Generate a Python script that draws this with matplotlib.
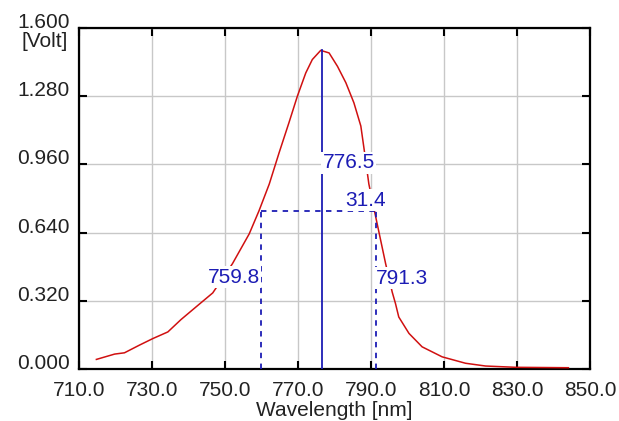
import matplotlib.pyplot as plt

# spectrum
wavelength = [714.7, 719.7, 722.4, 726.5, 730.2, 734.3, 737.9, 742.9, 746.6,
              752.0, 756.6, 759.3, 762.1, 764.8, 767.5, 769.8, 772.1, 773.9,
              776.2, 778.5, 780.8, 783.1, 785.3, 787.2, 788.1, 789.4, 791.3,
              794.0, 795.8, 796.7, 797.6, 800.4, 804.0, 809.5, 815.9, 821.4,
              829.6, 844.1]
volt = [0.045, 0.070, 0.076, 0.112, 0.143, 0.174, 0.232, 0.304, 0.357,
        0.494, 0.634, 0.743, 0.868, 1.015, 1.156, 1.280, 1.389, 1.452,
        1.495, 1.483, 1.420, 1.343, 1.249, 1.140, 1.031, 0.868, 0.712,
        0.494, 0.361, 0.307, 0.244, 0.167, 0.104, 0.057, 0.027, 0.014,
        0.008, 0.006]

peak_x = 776.5
peak_y = 1.495
left_x = 759.8
right_x = 791.3
half_y = 0.743
fwhm = 31.4

xticks = [710, 730, 750, 770, 790, 810, 830, 850]
yticks = [0.0, 0.32, 0.64, 0.96, 1.28, 1.6]

red = '#d01010'
blue = '#1c1cb4'

plt.rcParams['font.family'] = 'Liberation Sans'
plt.rcParams['font.size'] = 15

fig = plt.figure(figsize=(6.19, 4.21), dpi=100)
ax = fig.add_axes([0.128, 0.1235, 0.825, 0.81])

ax.set_xlim(710, 850)
ax.set_ylim(0, 1.6)
ax.set_xticks(xticks)
ax.set_yticks(yticks)
ax.set_xticklabels([f"{v:.1f}" for v in xticks])
ax.set_yticklabels([f"{v:.3f}" for v in yticks])
for lbl in ax.get_yticklabels():
    lbl.set_va('baseline')
ax.tick_params(direction='in', length=6, width=1.5, top=True, right=True,
               labelcolor='#222222')
ax.tick_params(axis='y', pad=7)
ax.tick_params(axis='x', pad=8.5)
ax.grid(True, color='#c8c8c8', lw=1)
ax.set_axisbelow(True)
for s in ax.spines.values():
    s.set_linewidth(1.6)

ax.plot(wavelength, volt, color=red, lw=1.1, zorder=3)

# peak and half width markers
ax.plot([peak_x, peak_x], [0, peak_y], color=blue, lw=1.3, zorder=4)
ax.plot([left_x, right_x], [half_y, half_y], color=blue, lw=1.3, ls=(0, (3, 3)), zorder=4)
ax.plot([left_x, left_x], [0, half_y], color=blue, lw=1.3, ls=(0, (3, 3)), zorder=4)
ax.plot([right_x, right_x], [0, half_y], color=blue, lw=1.3, ls=(0, (3, 3)), zorder=4)

box = dict(facecolor='white', edgecolor='none', pad=1)
ax.text(peak_x + 0.2, 0.967, f"{peak_x:.1f}", color=blue, ha='left', va='center',
        bbox=box, zorder=5)
ax.text(783.0, half_y + 0.005, f"{fwhm:.1f}", color=blue, ha='left', va='bottom',
        bbox=box, zorder=5)
ax.text(left_x - 0.3, 0.43, f"{left_x:.1f}", color=blue, ha='right', va='center',
        bbox=box, zorder=5)
ax.text(right_x + 0.1, 0.425, f"{right_x:.1f}", color=blue, ha='left', va='center',
        bbox=box, zorder=5)

ax.annotate('[Volt]', xy=(0, 1.6), xycoords=('axes fraction', 'data'),
            xytext=(-8, -3), textcoords='offset points', ha='right', va='top',
            color='#222222')
ax.set_xlabel('Wavelength [nm]', labelpad=1, color='#222222')

fig.savefig('out.png', dpi=100)
